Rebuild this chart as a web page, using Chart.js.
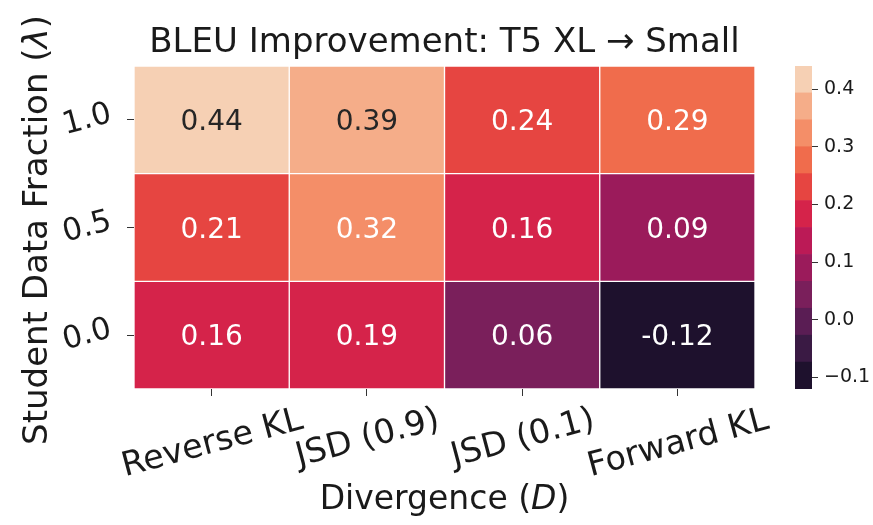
<!DOCTYPE html>
<html>
<head>
<meta charset="utf-8">
<script src="https://cdn.jsdelivr.net/npm/chart.js@4.4.0/dist/chart.umd.min.js"></script>
<style>
    body { margin: 0; background: #fff; }
    #wrap { position: relative; width: 873px; height: 525px; }
    #heat { position: absolute; left: 0; top: 0; }
    #cbar { position: absolute; left: 780px; top: 0; }
</style>
</head>
<body>
<div id="wrap">
    <canvas id="heat" width="873" height="525"></canvas>
    <canvas id="cbar" width="93" height="525"></canvas>
</div>
<script>
// Data
const divergences = ['Reverse KL', 'JSD (0.9)', 'JSD (0.1)', 'Forward KL'];
const fractions = ['0.0', '0.5', '1.0'];          // bottom row first
const gainFrac00 = [0.16, 0.19, 0.06, -0.12];
const gainFrac05 = [0.21, 0.32, 0.16, 0.09];
const gainFrac10 = [0.44, 0.39, 0.24, 0.29];
const cbarTicks = [-0.1, 0.0, 0.1, 0.2, 0.3, 0.4];

const rows = [gainFrac00, gainFrac05, gainFrac10];

// rocket palette, 12 steps
const rocket12 = ['#1e112d', '#3a1a44', '#5a1d54', '#7a1f5b', '#9b1b5b', '#bb1a56',
                  '#d5234a', '#e64541', '#f06c4c', '#f48e68', '#f5ad89', '#f6d0b4'];

const FONT = 'DejaVu Sans';
const INK = '#1a1a1a';

const allVals = rows.flat();
const vmin = Math.min(...allVals);
const vmax = Math.max(...allVals);
const nBins = rocket12.length;

function colorFor(v) {
    const k = Math.floor((v - vmin) / (vmax - vmin) * nBins + 1e-9);
    return rocket12[Math.max(0, Math.min(nBins - 1, k))];
}

// same rule seaborn uses to pick dark or light annotation text
function textColorOn(hex) {
    const lin = c => {
        c = c / 255;
        return c <= 0.03928 ? c / 12.92 : Math.pow((c + 0.055) / 1.055, 2.4);
    };
    const r = lin(parseInt(hex.slice(1, 3), 16));
    const g = lin(parseInt(hex.slice(3, 5), 16));
    const b = lin(parseInt(hex.slice(5, 7), 16));
    const lum = 0.2126 * r + 0.7152 * g + 0.0722 * b;
    return lum > 0.408 ? '#262626' : '#ffffff';
}

// draw text made of plain / italic pieces, centred on (0,0) of the current transform
function drawPieces(ctx, pieces, size) {
    let total = 0;
    pieces.forEach(p => {
        ctx.font = (p[1] ? 'italic ' : '') + size + 'px "' + FONT + '"';
        p.w = ctx.measureText(p[0]).width;
        total += p.w;
    });
    let x = -total / 2;
    ctx.textAlign = 'left';
    ctx.textBaseline = 'alphabetic';
    pieces.forEach(p => {
        ctx.font = (p[1] ? 'italic ' : '') + size + 'px "' + FONT + '"';
        ctx.fillText(p[0], x, size * 0.365);
        x += p.w;
    });
}

const rotY = 15 * Math.PI / 180;
const rotX = 15 * Math.PI / 180;

const labelsPlugin = {
    id: 'heatLabels',
    afterDraw(chart) {
        const { ctx, chartArea, scales: { x, y } } = chart;
        ctx.save();

        // cell annotations
        const annSize = 28;
        ctx.font = annSize + 'px "' + FONT + '"';
        ctx.textAlign = 'center';
        ctx.textBaseline = 'alphabetic';
        chart.data.datasets.forEach((ds, r) => {
            ds.values.forEach((v, c) => {
                ctx.fillStyle = textColorOn(colorFor(v));
                ctx.fillText(v.toFixed(2), x.getPixelForValue(c), y.getPixelForValue(r) + annSize * 0.365);
            });
        });

        ctx.fillStyle = INK;

        // y tick labels, rotated, right aligned
        const ySize = 31;
        ctx.font = ySize + 'px "' + FONT + '"';
        fractions.forEach((lab, i) => {
            const w = ctx.measureText(lab).width;
            const bw = w * Math.cos(rotY) + ySize * 0.73 * Math.sin(rotY);
            const cx = chartArea.left - 21 - bw / 2;
            const cy = y.getPixelForValue(i) - 3;
            ctx.save();
            ctx.translate(cx, cy);
            ctx.rotate(-rotY);
            ctx.textAlign = 'center';
            ctx.textBaseline = 'alphabetic';
            ctx.fillText(lab, 0, ySize * 0.365);
            ctx.restore();
        });

        // x tick labels, rotated, centred under the tick
        const xSize = 33.5;
        ctx.font = xSize + 'px "' + FONT + '"';
        divergences.forEach((lab, i) => {
            const w = ctx.measureText(lab).width;
            const bh = w * Math.sin(rotX) + xSize * 0.95 * Math.cos(rotX);
            const cx = x.getPixelForValue(i);
            const cy = chartArea.bottom + 12 + bh / 2;
            ctx.save();
            ctx.translate(cx, cy);
            ctx.rotate(-rotX);
            ctx.textAlign = 'center';
            ctx.textBaseline = 'alphabetic';
            ctx.fillText(lab, 0, xSize * 0.365);
            ctx.restore();
        });

        // axis titles
        ctx.save();
        ctx.translate((chartArea.left + chartArea.right) / 2, 497);
        drawPieces(ctx, [['Divergence (', false], ['D', true], [')', false]], 33);
        ctx.restore();

        ctx.save();
        ctx.translate(35, 230);
        ctx.rotate(-Math.PI / 2);
        drawPieces(ctx, [['Student Data Fraction (', false], ['λ', true], [')', false]], 34);
        ctx.restore();

        ctx.restore();
    }
};

const tickGrid = {
    display: true,
    offset: false,
    drawOnChartArea: false,
    drawTicks: true,
    tickLength: 7,
    color: '#333333',
    lineWidth: 1
};

const heat = new Chart(document.getElementById('heat'), {
    type: 'bar',
    data: {
        labels: divergences,
        datasets: rows.map((vals, r) => ({
            data: vals.map(() => [r - 0.5, r + 0.5]),
            values: vals,
            backgroundColor: vals.map(colorFor),
            borderColor: 'rgba(255,255,255,0.85)',
            borderWidth: 1,
            borderSkipped: false,
            grouped: false,
            barPercentage: 1,
            categoryPercentage: 1
        }))
    },
    options: {
        responsive: false,
        animation: false,
        devicePixelRatio: 1,
        layout: { padding: { left: 0, right: 118, top: 0, bottom: 0 } },
        plugins: {
            legend: { display: false },
            tooltip: { enabled: false },
            title: {
                display: true,
                text: 'BLEU Improvement: T5 XL → Small',
                fullSize: false,
                color: INK,
                font: { family: FONT, size: 34, weight: 'normal', lineHeight: 1 },
                padding: { top: 26, bottom: 6 }
            }
        },
        scales: {
            x: {
                type: 'category',
                offset: true,
                grid: tickGrid,
                border: { display: false },
                ticks: { display: false },
                afterFit: s => { s.height = 136; }
            },
            y: {
                type: 'linear',
                min: -0.5,
                max: 2.5,
                grid: tickGrid,
                border: { display: false },
                ticks: { display: false },
                afterBuildTicks: s => { s.ticks = fractions.map((_, i) => ({ value: i })); },
                afterFit: s => { s.width = 134; }
            }
        }
    },
    plugins: [labelsPlugin]
});

// Colorbar: one floating bar per colour step
const step = (vmax - vmin) / nBins;
new Chart(document.getElementById('cbar'), {
    type: 'bar',
    data: {
        labels: [''],
        datasets: rocket12.map((c, k) => ({
            data: [[vmin + k * step, vmin + (k + 1) * step]],
            backgroundColor: c,
            borderWidth: 0,
            grouped: false,
            barPercentage: 1,
            categoryPercentage: 1
        }))
    },
    options: {
        responsive: false,
        animation: false,
        devicePixelRatio: 1,
        layout: { padding: { left: 15, right: 0, top: heat.chartArea.top, bottom: 525 - heat.chartArea.bottom } },
        plugins: { legend: { display: false }, tooltip: { enabled: false } },
        scales: {
            x: { display: false },
            y: {
                position: 'right',
                min: vmin,
                max: vmax,
                afterBuildTicks: s => { s.ticks = cbarTicks.map(v => ({ value: v })); },
                ticks: {
                    color: INK,
                    padding: 6,
                    font: { family: FONT, size: 19 },
                    callback: v => (v < -1e-9 ? '\u2212' : '') + Math.abs(v).toFixed(1)
                },
                grid: { drawOnChartArea: false, drawTicks: true, tickLength: 6, color: '#333333', lineWidth: 1 },
                border: { display: false },
                afterFit: s => { s.width = 61; }
            }
        }
    }
});
</script>
</body>
</html>
